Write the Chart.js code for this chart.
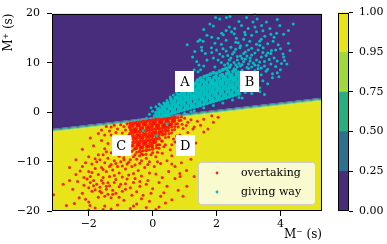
<!DOCTYPE html>
<html>
<head>
<meta charset="utf-8">
<script src="https://cdn.jsdelivr.net/npm/chart.js@4/dist/chart.umd.min.js"></script>
<style>
  html, body { margin: 0; padding: 0; background: #fff; }
  #wrap { position: relative; width: 387px; height: 244px; }
  canvas { position: absolute; top: 0; }
  #main { left: 0; }
  #cbar { left: 330px; }
</style>
</head>
<body>
<div id="wrap">
  <canvas id="main" width="387" height="244"></canvas>
  <canvas id="cbar" width="57" height="244"></canvas>
</div>
<script>
// axes
const xRange = [-3.15, 5.3];
const yRange = [-20, 20];
const xTicks = [-2, 0, 2, 4];
const yTicks = [-20, -10, 0, 10, 20];

// decision boundary (p = 0.5) and the other contour levels around it
const boundaryX = [-3.15, 5.3];
const boundaryY = [-3.67, 2.65];
const contourLevels = [0.25, 0.5, 0.75, 0.95];
const contourShift = [0.3, 0.1, -0.1, -0.3];

// colorbar
const cbLevels = [0, 0.25, 0.5, 0.75, 0.95, 1];
const bandColors = ['#472d7b', '#2c728e', '#28ae80', '#9fda3a', '#e7e419'];

const seriesNames = ['overtaking', 'giving way'];
const seriesColors = ['rgba(255,0,0,0.85)', '#00bfbf'];

// A B C D markers
const boxLetters = ['A', 'B', 'C', 'D'];
const boxX = [1.01, 3.03, -0.98, 1.02];
const boxY = [6.27, 6.27, -6.73, -6.73];

// giving way (M-, M+): the dense band
const givingWayCore = [
[0.30,-0.80],[0.32,-0.20],[0.28,0.40],[0.31,1.00],
[0.40,-0.65],[0.42,-0.05],[0.38,0.55],[0.41,1.15],[0.39,1.60],
[0.50,-0.45],[0.48,0.15],[0.52,0.75],[0.50,1.35],[0.47,1.95],
[0.60,-0.25],[0.62,0.35],[0.58,0.95],[0.61,1.55],[0.60,2.15],[0.57,2.70],
[0.70,-0.05],[0.68,0.55],[0.72,1.15],[0.70,1.75],[0.69,2.35],[0.71,2.95],
[0.80,0.15],[0.82,0.75],[0.78,1.35],[0.80,1.95],[0.81,2.55],[0.79,3.15],[0.80,3.60],
[0.90,0.35],[0.88,0.95],[0.92,1.55],[0.90,2.15],[0.89,2.75],[0.91,3.35],[0.90,3.90],
[1.00,0.55],[1.02,1.15],[0.98,1.75],[1.00,2.35],[1.01,2.95],[0.99,3.55],[1.00,4.10],
[1.10,0.70],[1.08,1.30],[1.12,1.90],[1.10,2.50],[1.09,3.10],[1.11,3.70],[1.10,4.30],[1.08,4.80],
[1.20,0.90],[1.22,1.50],[1.18,2.10],[1.20,2.70],[1.21,3.30],[1.19,3.90],[1.20,4.50],[1.22,5.10],
[1.30,1.05],[1.28,1.65],[1.32,2.25],[1.30,2.85],[1.29,3.45],[1.31,4.05],[1.30,4.65],[1.28,5.25],[1.31,5.80],
[1.40,1.25],[1.42,1.85],[1.38,2.45],[1.40,3.05],[1.41,3.65],[1.39,4.25],[1.40,4.85],[1.42,5.45],[1.38,6.05],[1.41,6.50],
[1.50,1.45],[1.48,2.05],[1.52,2.65],[1.50,3.25],[1.49,3.85],[1.51,4.45],[1.50,5.05],[1.48,5.65],[1.52,6.25],[1.50,6.90],
[1.60,1.65],[1.62,2.25],[1.58,2.85],[1.60,3.45],[1.61,4.05],[1.59,4.65],[1.60,5.25],[1.62,5.85],[1.58,6.45],[1.61,7.20],
[1.70,1.85],[1.68,2.45],[1.72,3.05],[1.70,3.65],[1.69,4.25],[1.71,4.85],[1.70,5.45],[1.68,6.05],[1.72,6.65],[1.70,7.40],
[1.80,2.05],[1.82,2.65],[1.78,3.25],[1.80,3.85],[1.81,4.45],[1.79,5.05],[1.80,5.65],[1.82,6.25],[1.78,6.85],[1.80,7.70],
[1.90,2.25],[1.88,2.85],[1.92,3.45],[1.90,4.05],[1.89,4.65],[1.91,5.25],[1.90,5.85],[1.88,6.45],[1.92,7.05],[1.90,8.00],
[2.00,2.45],[2.02,3.05],[1.98,3.65],[2.00,4.25],[2.01,4.85],[1.99,5.45],[2.00,6.05],[2.02,6.65],[1.98,7.25],[2.00,7.90],
[2.10,2.60],[2.08,3.20],[2.12,3.80],[2.10,4.40],[2.09,5.00],[2.11,5.60],[2.10,6.20],[2.08,6.80],[2.12,7.40],[2.10,8.30],
[2.20,2.80],[2.22,3.40],[2.18,4.00],[2.20,4.60],[2.21,5.20],[2.19,5.80],[2.20,6.40],[2.22,7.00],[2.18,7.60],[2.20,8.60],
[2.30,2.95],[2.28,3.55],[2.32,4.15],[2.30,4.75],[2.29,5.35],[2.31,5.95],[2.30,6.55],[2.28,7.15],[2.32,7.80],[2.30,8.90],
[2.40,3.15],[2.42,3.75],[2.38,4.35],[2.40,4.95],[2.41,5.55],[2.39,6.15],[2.40,6.75],[2.42,7.35],[2.38,8.00],[2.40,9.20],
[2.50,3.35],[2.48,3.95],[2.52,4.55],[2.50,5.15],[2.49,5.75],[2.51,6.35],[2.50,6.95],[2.48,7.55],[2.52,8.30],
[2.60,3.55],[2.62,4.15],[2.58,4.75],[2.60,5.35],[2.61,5.95],[2.59,6.55],[2.60,7.15],[2.62,7.80],[2.58,8.60],
[2.70,3.75],[2.68,4.35],[2.72,4.95],[2.70,5.55],[2.69,6.15],[2.71,6.75],[2.70,7.40],[2.68,8.10],
[0.20,-0.60],[0.21,0.05],[0.19,0.65],[0.10,-0.75],[0.11,-0.10]
];

// giving way (M-, M+): scattered points
const givingWay = [
[0.00,0.20],[0.10,1.10],[0.20,1.70],[-0.10,-0.40],[0.15,0.60],[0.05,-0.70],[-0.20,-1.20],[-0.45,-1.55],
[0.35,1.90],[0.25,1.40],[0.45,2.40],[0.55,3.10],[0.65,3.50],[0.75,3.90],[0.20,-0.60],[-0.05,0.90],
[-0.30,-3.70],[0.13,-4.70],[0.45,-2.30],[0.13,-0.80],
[1.00,-0.20],[1.30,0.30],[1.60,0.90],[1.90,1.40],[2.20,1.90],[2.50,2.50],[2.80,2.90],[3.10,3.80],
[2.90,4.00],[2.70,3.00],[1.20,0.10],[3.35,5.00],[3.45,6.40],[3.40,7.60],[3.55,8.30],[3.30,8.80],
[3.60,5.80],[3.75,7.00],[3.90,8.00],[3.35,4.20],[3.50,3.60],
[1.95,9.20],[2.15,10.10],[2.35,9.90],[2.45,11.00],[2.55,10.10],[2.65,9.20],[2.75,11.40],[2.85,10.30],
[2.95,9.10],[3.05,11.00],[3.15,10.00],[3.20,12.00],[3.30,9.50],[3.40,11.20],[3.50,10.30],[3.60,12.00],
[3.70,9.80],[3.80,11.00],[3.90,10.40],[2.10,11.80],[2.30,12.40],[2.60,12.80],[2.90,12.20],[3.10,13.00],
[3.30,12.60],[2.00,12.60],[1.90,11.00],[1.70,10.60],[1.60,9.40],[1.50,8.60],[2.55,8.80],[2.80,8.50],
[3.00,8.90],[3.20,8.40],[3.40,9.00],[3.60,8.70],[3.75,7.80],[4.00,8.60],[3.95,7.20],[2.70,9.90],
[2.90,10.80],[3.10,11.60],[2.50,11.80],[2.20,11.30],[2.40,10.60],[3.55,11.50],[3.25,10.60],[2.85,11.90],
[3.00,9.80],[2.65,10.60],[2.45,9.60],[2.75,9.40],[3.35,13.60],[2.75,13.50],[2.45,13.20],[2.15,13.80],
[3.60,13.90],[1.45,9.60],[1.30,8.60],[1.42,8.20],[1.38,10.30],
[2.05,10.60],[2.25,9.60],[2.35,11.50],[2.55,12.20],[2.65,11.30],[2.80,10.90],[2.95,11.40],[3.05,10.40],
[3.20,9.60],[3.35,10.20],[3.45,12.10],[3.65,10.70],[3.70,11.90],[3.85,9.30],[3.50,9.40],[2.80,9.70],
[3.10,9.20],[2.60,9.60],[2.35,8.40],[3.85,12.60],[4.10,11.20],[2.20,12.90],[3.00,12.60],[3.40,14.80],
[2.60,14.20],[2.90,15.70],[3.70,15.80],[2.30,16.60],[3.20,17.30],[3.90,18.80],[4.25,16.60],[1.85,15.20],
[2.70,18.40],
[1.08,13.70],[1.32,12.30],[1.48,14.70],[1.58,14.40],[1.53,13.20],[1.79,17.90],[1.84,13.10],[1.97,19.20],
[2.10,18.90],[2.16,16.00],[2.21,15.70],[2.31,19.20],[2.42,19.40],[2.40,17.30],[2.47,16.30],[2.57,17.00],
[2.62,15.00],[2.68,14.10],[2.73,13.10],[2.78,17.60],[2.88,16.20],[2.94,19.20],[2.99,17.00],[3.04,14.40],
[3.14,18.30],[3.20,19.90],[3.25,16.30],[3.27,18.90],[3.35,14.40],[3.41,17.60],[3.46,13.10],[3.51,15.40],
[3.56,18.30],[3.67,17.00],[3.72,12.50],[3.77,14.40],[3.88,16.00],[3.93,13.70],[3.98,17.60],[4.08,11.80],
[4.13,10.50],[4.03,9.90],[4.40,17.90],[4.20,9.80],[1.42,14.40],[1.54,12.50],[1.90,17.50],[2.05,15.00],
[1.70,15.60],[1.60,16.80],[2.30,14.60],[2.55,15.90],[2.85,14.80],[3.10,15.60],[3.45,16.50],[3.80,15.20],
[4.25,14.00],[4.30,12.50],[4.10,15.80],[2.95,13.60],[3.25,13.80],[1.95,14.00],[1.25,11.20],[1.65,11.90],
[1.85,12.10],[4.00,12.90]
];

// overtaking (M-, M+): the dense cluster under the boundary
const overtakingCore = [
[-0.70,-2.30],[-0.72,-3.00],[-0.68,-3.60],[-0.70,-4.30],
[-0.60,-2.20],[-0.62,-2.80],[-0.58,-3.50],[-0.60,-4.10],[-0.61,-4.80],[-0.59,-5.40],[-0.60,-6.10],[-0.62,-6.80],
[-0.50,-2.10],[-0.48,-2.70],[-0.52,-3.40],[-0.50,-4.00],[-0.49,-4.70],[-0.51,-5.30],[-0.50,-6.00],[-0.48,-6.70],[-0.52,-7.30],
[-0.40,-2.00],[-0.42,-2.60],[-0.38,-3.30],[-0.40,-3.90],[-0.41,-4.60],[-0.39,-5.20],[-0.40,-5.90],[-0.42,-6.50],[-0.38,-7.20],[-0.40,-7.90],
[-0.30,-1.90],[-0.28,-2.50],[-0.32,-3.20],[-0.30,-3.80],[-0.29,-4.50],[-0.31,-5.10],[-0.30,-5.80],[-0.28,-6.40],[-0.32,-7.10],
[-0.20,-1.80],[-0.22,-2.40],[-0.18,-3.10],[-0.20,-3.70],[-0.21,-4.40],[-0.19,-5.00],[-0.20,-5.70],[-0.22,-6.30],[-0.18,-7.00],[-0.20,-7.70],
[-0.10,-1.70],[-0.08,-2.30],[-0.12,-3.00],[-0.10,-3.60],[-0.09,-4.30],[-0.11,-4.90],[-0.10,-5.60],[-0.08,-6.20],[-0.12,-6.90],
[0.00,-1.65],[0.02,-2.25],[-0.02,-2.90],[0.00,-3.50],[0.01,-4.20],[-0.01,-4.80],[0.00,-5.50],[0.02,-6.10],[-0.02,-6.80],[0.00,-7.40],
[0.10,-1.55],[0.08,-2.15],[0.12,-2.80],[0.10,-3.40],[0.09,-4.10],[0.11,-4.70],[0.10,-5.40],[0.08,-6.00],
[0.20,-1.50],[0.22,-2.10],[0.18,-2.70],[0.20,-3.30],[0.21,-4.00],[0.19,-4.60],[0.20,-5.30],
[0.30,-1.40],[0.28,-2.00],[0.32,-2.60],[0.30,-3.20],[0.29,-3.90],[0.31,-4.50],
[0.40,-1.35],[0.42,-1.95],[0.38,-2.55],[0.40,-3.15],[0.41,-3.80],
[0.50,-1.25],[0.48,-1.85],[0.52,-2.45],[0.50,-3.05],
[0.60,-1.20],[0.62,-1.80],[0.58,-2.40],
[0.70,-1.10],[0.68,-1.70]
];

// overtaking (M-, M+): scattered points
const overtaking = [
[-0.41,-8.80],[-0.21,-8.50],[0.12,-7.20],[0.22,-6.60],[0.30,-5.80],[0.40,-5.10],[0.50,-5.00],[0.51,-4.30],
[0.59,-4.20],[0.61,-3.60],[0.69,-3.50],[0.70,-2.90],[0.80,-1.05],[0.82,-1.65],[0.78,-2.30],[0.80,-3.00],
[0.90,-0.95],[0.88,-1.60],[0.92,-2.40],[-0.58,-7.50],[-0.50,-8.10],[-0.30,-7.80],[-0.10,-7.60],[0.12,-6.70],
[0.18,-6.60],[0.28,-5.80],[0.40,-4.40],[0.49,-3.70],[0.60,-3.00],[0.72,-2.30],
[1.00,-1.20],[1.10,-2.00],[1.20,-1.50],[1.30,-3.00],[1.26,-3.40],[1.40,-1.80],[1.50,-2.60],[1.60,-1.40],
[1.73,-3.40],[1.90,-2.00],[2.05,-1.00],[1.10,-4.10],[0.95,-3.30],[1.05,-2.70],[0.85,-4.60],[1.60,-4.00],
[1.85,-0.70],[1.35,-6.20],
[-1.30,-3.00],[-1.20,-2.60],[-1.10,-3.40],[-1.00,-2.50],[-0.90,-2.90],[-0.85,-3.60],[-0.95,-4.20],[-1.15,-4.10],
[-1.35,-3.80],[-0.80,-2.30],[-1.45,-2.90],[-1.60,-3.60],[-1.70,-4.30],[-1.50,-4.60],[-1.30,-4.60],[-0.75,-4.70],
[-0.60,-9.00],[-0.50,-9.50],[-0.30,-8.60],[-0.20,-9.30],[0.00,-8.20],[0.10,-9.00],[-0.10,-10.00],[-0.40,-10.30],
[-0.70,-9.60],[-0.80,-10.50],[-0.90,-9.20],[-1.00,-10.00],[-1.10,-11.00],[-1.20,-9.80],[-1.30,-10.60],[-1.40,-9.30],
[-1.50,-10.20],[-1.60,-11.20],[-1.45,-12.00],[-1.25,-11.70],[-1.05,-12.30],[-0.85,-11.50],[-0.65,-11.00],[-0.45,-11.80],
[-0.25,-11.20],[0.05,-11.00],[0.25,-10.40],[0.30,-8.30],[0.45,-9.80],[0.60,-8.80],[0.20,-7.30],[0.40,-6.60],
[0.55,-7.60],[0.70,-6.00],[-1.70,-12.60],[-1.55,-13.20],[-1.35,-13.00],[-1.15,-13.60],[-0.95,-13.10],[-0.75,-12.70],
[-0.55,-13.40],[-0.35,-12.90],[-0.15,-13.80],[0.10,-12.50],[-1.80,-11.40],[-1.90,-10.50],[-2.00,-12.00],[-1.65,-9.60],
[-1.30,-8.20],[-1.50,-7.40],[-1.70,-8.60],[-1.40,-6.30],[-1.60,-5.70],[-1.85,-6.80],[-2.00,-9.00],[-2.27,-11.90],
[-2.10,-10.20],
[-2.05,-13.50],[-1.95,-14.20],[-1.85,-13.80],[-1.75,-14.60],[-1.65,-15.20],[-1.55,-14.40],[-1.45,-15.60],[-1.35,-14.90],
[-1.25,-15.80],[-1.15,-16.40],[-1.05,-15.10],[-0.95,-16.00],[-0.85,-14.50],[-1.60,-16.30],[-1.50,-17.00],[-1.40,-16.60],
[-1.30,-17.30],[-1.70,-17.20],[-1.90,-16.00],[-2.00,-15.30],[-2.15,-14.80],[-2.20,-16.40],[-1.80,-15.70],[-1.20,-14.20],
[-0.70,-15.30],[-0.60,-14.20],[-0.50,-16.10],[-0.40,-15.00],[-0.30,-16.80],[-0.20,-14.60],[0.00,-15.50],[0.20,-14.20],
[0.35,-16.30],[0.60,-17.70],[0.86,-13.00],[1.07,-15.00],[0.50,-12.00],[0.70,-13.40],[0.85,-12.40],[0.70,-11.00],
[0.90,-10.20],[1.20,-9.50],[0.60,-10.50],[1.06,-11.80],[0.80,-15.80],[0.40,-18.40],[0.20,-19.20],[-0.10,-18.00],
[-0.50,-18.60],[-0.90,-17.80],[-1.10,-18.80],[-1.50,-19.00],[-1.80,-19.40],[-2.00,-18.20],[-2.30,-17.30],[-2.50,-15.60],
[-2.60,-13.80],[-2.40,-12.60],[-2.80,-14.60],[-3.10,-16.70],[-2.70,-18.90],[-1.30,-19.60],[-0.70,-19.50],[0.10,-19.70],
[-2.00,-19.80],[-1.96,-18.90],[-1.55,-19.70],[-0.60,-19.00],
[-1.75,-10.00],[-1.55,-11.60],[-1.35,-11.00],[-1.15,-10.40],[-0.95,-10.90],[-0.75,-10.10],[-0.55,-10.70],[-0.35,-9.80],
[-0.15,-10.60],[0.15,-10.00],[-1.95,-13.00],[-1.60,-13.80],[-1.40,-14.30],[-1.20,-12.80],[-1.00,-14.60],[-0.80,-13.50],
[-0.60,-12.40],[-0.40,-14.00],[-0.10,-12.30],[0.30,-13.20],[-1.85,-14.90],[-1.65,-16.00],[-1.45,-15.00],[-1.25,-16.60],
[-1.05,-17.20],[-0.85,-15.60],[-0.65,-16.80],[-0.35,-17.50],[-0.05,-16.40],[0.25,-17.00],[-2.35,-14.00],[-2.15,-13.20],
[-1.90,-12.20],[-2.20,-11.00],[-1.80,-9.40],[-1.55,-8.60],[-1.45,-8.00],[-0.90,-9.60],[-1.05,-8.90],[-1.95,-5.20],
[-2.20,-7.50],[-2.40,-9.60],[-2.60,-11.20],[-2.10,-17.60],[-2.45,-18.50],[-0.20,-19.30],[0.45,-15.00],[0.95,-17.00],
[1.30,-13.00],[-0.55,-8.60],[-0.35,-8.40],[-0.05,-8.60],[0.15,-8.10],[-0.65,-7.90],[0.35,-7.00],[0.60,-6.60],
[0.75,-4.80],[0.95,-5.60],[0.65,-5.40]
];

Chart.defaults.font.family = '"DejaVu Serif", serif';
Chart.defaults.font.size = 11;
Chart.defaults.color = '#000';

const fmt = v => String(v).replace('-', '\u2212');
const toXY = arr => arr.map(p => ({ x: p[0], y: p[1] }));

// contour lines: boundary shifted per level
const contourData = contourShift.map(dy => boundaryX.map((x, i) => ({ x: x, y: boundaryY[i] + dy })));
const lineBase = { type: 'line', pointRadius: 0, borderWidth: 0, borderColor: 'transparent', tension: 0 };

const frame = {
  id: 'frame',
  afterDraw(chart) {
    const { ctx, chartArea: a } = chart;
    ctx.save();
    ctx.strokeStyle = '#000';
    ctx.lineWidth = 1;
    ctx.strokeRect(Math.round(a.left) + 0.5, Math.round(a.top) + 0.5, Math.round(a.width) - 1, Math.round(a.height) - 1);
    ctx.restore();
  }
};

const overlay = {
  id: 'overlay',
  afterDraw(chart) {
    const { ctx, chartArea: a, scales } = chart;
    ctx.save();
    // letter boxes
    ctx.font = '13px "DejaVu Serif"';
    ctx.textAlign = 'center';
    ctx.textBaseline = 'middle';
    boxLetters.forEach((t, i) => {
      const px = scales.x.getPixelForValue(boxX[i]);
      const py = scales.y.getPixelForValue(boxY[i]);
      ctx.fillStyle = '#fff';
      ctx.fillRect(Math.round(px - 9.5), Math.round(py - 10.5), 19, 21);
      ctx.fillStyle = '#000';
      ctx.fillText(t, px, py + 1);
    });
    // legend
    const lw = 117, lh = 42;
    const lx = a.right - 7 - lw, ly = a.bottom - 7 - lh;
    ctx.beginPath();
    ctx.roundRect(lx + 0.5, ly + 0.5, lw, lh, 3);
    ctx.fillStyle = 'rgba(255,255,255,0.8)';
    ctx.fill();
    ctx.strokeStyle = '#cccccc';
    ctx.lineWidth = 1;
    ctx.stroke();
    ctx.font = '11px "DejaVu Serif"';
    ctx.textAlign = 'left';
    seriesNames.forEach((name, i) => {
      const ry = ly + 11 + i * 19;
      ctx.fillStyle = seriesColors[i];
      ctx.beginPath();
      ctx.arc(lx + 19, ry, 1.4, 0, Math.PI * 2);
      ctx.fill();
      ctx.fillStyle = '#000';
      ctx.fillText(name, lx + 43, ry);
    });
    ctx.restore();
  }
};

const sparse = { pointRadius: 1.5, borderWidth: 0 };
const dense = { pointRadius: 2, borderWidth: 0 };

new Chart(document.getElementById('main'), {
  type: 'scatter',
  data: {
    datasets: [
      Object.assign({ label: seriesNames[1], data: toXY(givingWay), backgroundColor: seriesColors[1] }, sparse),
      Object.assign({ label: seriesNames[1], data: toXY(givingWayCore), backgroundColor: seriesColors[1] }, dense),
      Object.assign({ label: seriesNames[0], data: toXY(overtaking), backgroundColor: seriesColors[0] }, sparse),
      Object.assign({ label: seriesNames[0], data: toXY(overtakingCore), backgroundColor: seriesColors[0] }, dense),
      Object.assign({ data: contourData[0], fill: 'end', backgroundColor: bandColors[0] }, lineBase),
      Object.assign({ data: contourData[1], fill: '-1', backgroundColor: bandColors[1] }, lineBase),
      Object.assign({ data: contourData[2], fill: '-1', backgroundColor: bandColors[2] }, lineBase),
      Object.assign({ data: contourData[3], fill: '-1', backgroundColor: bandColors[3] }, lineBase),
      Object.assign({ data: contourData[3], fill: 'start', backgroundColor: bandColors[4] }, lineBase)
    ]
  },
  options: {
    responsive: false,
    animation: false,
    devicePixelRatio: 1,
    layout: { padding: { top: 4, right: 65, left: 0, bottom: 0 } },
    plugins: { legend: { display: false }, tooltip: { enabled: false } },
    scales: {
      x: {
        type: 'linear', min: xRange[0], max: xRange[1],
        afterFit: s => { s.height = 33; },
        afterBuildTicks: s => { s.ticks = xTicks.map(v => ({ value: v })); },
        ticks: { callback: v => fmt(v), padding: 2, maxRotation: 0 },
        grid: { drawOnChartArea: false, tickLength: 5, color: '#000' },
        border: { display: false },
        title: { display: true, text: 'M\u207B (s)', align: 'end', font: { size: 12 }, padding: { top: 0, bottom: 2 } }
      },
      y: {
        type: 'linear', min: yRange[0], max: yRange[1],
        afterFit: s => { s.width = 52; },
        afterBuildTicks: s => { s.ticks = yTicks.map(v => ({ value: v })); },
        ticks: { callback: v => fmt(v), padding: 7 },
        grid: { drawOnChartArea: false, tickLength: 5, color: '#000' },
        border: { display: false },
        title: { display: true, text: 'M\u207A (s)', align: 'end', font: { size: 12 }, padding: { top: 2, bottom: 0 } }
      }
    }
  },
  plugins: [frame, overlay]
});

new Chart(document.getElementById('cbar'), {
  type: 'bar',
  data: {
    labels: [''],
    datasets: bandColors.map(c => ({ data: [1], backgroundColor: c, borderWidth: 0, barPercentage: 1, categoryPercentage: 1 }))
  },
  options: {
    responsive: false,
    animation: false,
    devicePixelRatio: 1,
    layout: { padding: { top: 4, left: 8, right: 0, bottom: 33 } },
    plugins: { legend: { display: false }, tooltip: { enabled: false } },
    scales: {
      x: { display: false, stacked: true },
      y: {
        position: 'right', stacked: true, min: 0, max: cbLevels.length - 1,
        afterFit: s => { s.width = 38; },
        afterBuildTicks: s => { s.ticks = cbLevels.map((v, i) => ({ value: i })); },
        ticks: { callback: v => cbLevels[v].toFixed(2), padding: 6 },
        grid: { drawOnChartArea: false, tickLength: 4, color: '#000' },
        border: { display: false }
      }
    }
  },
  plugins: [frame]
});
</script>
</body>
</html>
